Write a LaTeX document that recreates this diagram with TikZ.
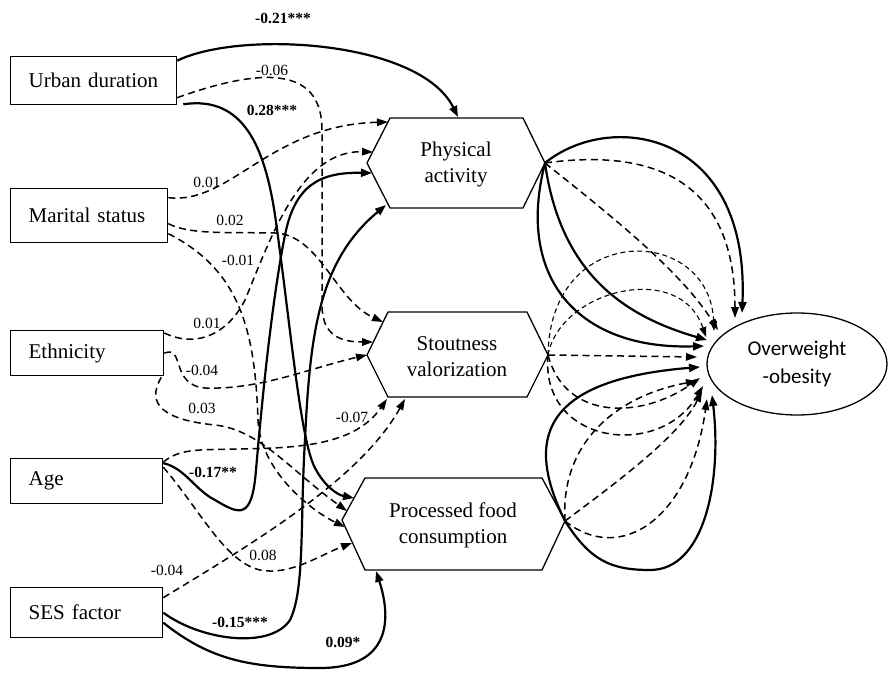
\documentclass[tikz,border=0pt]{standalone}
\usepackage{fontspec}
\setmainfont{Liberation Serif}
\newfontfamily\calib{Carlito}
\usetikzlibrary{arrows.meta,calc,shapes.geometric}
\begin{document}
\begin{tikzpicture}[x=1pt,y=-1pt,
  box/.style={draw, line width=1.3pt, inner xsep=18pt, inner ysep=0pt, align=left,
    font=\fontsize{21}{24}\selectfont, anchor=north west},
  hex/.style={draw, line width=1.3pt, line join=miter},
  htext/.style={align=center, font=\fontsize{21}{26}\selectfont},
  sol/.style={line width=2.2pt, -{Triangle[length=11pt,width=8pt]}},
  dsh/.style={line width=1.5pt, dash pattern=on 7pt off 4.5pt, -{Triangle[length=11pt,width=7.5pt]}},
  thin/.style={line width=1.1pt, dash pattern=on 5pt off 3.5pt, -{Triangle[length=10pt,width=7pt]}},
  lab/.style={font=\fontsize{15.5}{18}\selectfont, inner sep=1pt},
  blab/.style={font=\bfseries\fontsize{15.5}{18}\selectfont, inner sep=1pt}
]
\useasboundingbox (0,0) rectangle (889,674);

% exogenous boxes
\node[box, text width=130pt, minimum height=48pt] (ud) at (10,56) {Urban duration};
\node[box, text width=121pt, minimum height=54pt] (ms) at (10,188) {Marital status};
\node[box, text width=117pt, minimum height=45pt] (et) at (10,330) {Ethnicity};
\node[box, text width=116pt, minimum height=45pt] (ag) at (10,458) {Age};
\node[box, text width=116pt, minimum height=50pt] (ses) at (10,587) {SES factor};

% mediators (hexagons)
\draw[hex] (367,163) -- (390,118) -- (523,118) -- (545,163) -- (523,208) -- (390,208) -- cycle;
\node[htext] (pa) at (456,164) {Physical\\activity};
\draw[hex] (367,355) -- (388,312) -- (527,312) -- (548,355) -- (527,397) -- (388,397) -- cycle;
\node[htext] (sv) at (457,357) {Stoutness\\valorization};
\draw[hex] (342,520) -- (365,478) -- (542,478) -- (565,521) -- (542,570) -- (365,570) -- cycle;
\node[htext] (pf) at (453,525) {Processed food\\consumption};

% outcome
\node[draw, ellipse, line width=1.3pt, minimum width=180pt, minimum height=102pt, inner sep=0pt,
  font=\calib\fontsize{21}{28}\selectfont, align=center] (ow) at (797,364) {Overweight\\-obesity};

% attachment points
\coordinate (paT) at (458,117);
\coordinate (paL1) at (388,122);
\coordinate (paL2) at (373,152);
\coordinate (paL3) at (372,173);
\coordinate (paL4) at (386,205);
\coordinate (paR) at (545,163);
\coordinate (svL1) at (383,322);
\coordinate (svL2) at (373,342);
\coordinate (svL3) at (367,355);
\coordinate (svB1) at (387,399);
\coordinate (svB2) at (405,399);
\coordinate (svR) at (548,355);
\coordinate (pfL1) at (354,498);
\coordinate (pfL2) at (347,511);
\coordinate (pfL3) at (345,527);
\coordinate (pfL4) at (352,543);
\coordinate (pfB) at (376,571);
\coordinate (pfR) at (565,521);
\coordinate (e1) at (742,313);
\coordinate (e2) at (735,318);
\coordinate (e3) at (718,330);
\coordinate (e4) at (707,340);
\coordinate (e5) at (704,346);
\coordinate (e6) at (697,357);
\coordinate (e7) at (714,331);
\coordinate (e8) at (706,337);
\coordinate (e9) at (700,378);
\coordinate (e10) at (703,386);
\coordinate (e11) at (700,367);
\coordinate (e12) at (712,395);
\coordinate (e13) at (697,381);
\coordinate (e14) at (702,391);
\coordinate (e15) at (707,399);

% Urban duration
\draw[sol] ($(ud.east)+(0,-20)$) .. controls (240,30) and (420,40) .. (paT);
\draw[dsh] ($(ud.east)+(0,17)$) .. controls (260,68) and (322,65) .. (322,130) -- (322,305) .. controls (322,335) and (340,342) .. (svL2);
\draw[sol] ($(ud.south east)+(6,-1)$) .. controls (245,95) and (265,150) .. (275,215) .. controls (290,320) and (300,440) .. (315,468) .. controls (325,487) and (338,495) .. (pfL1);
% Marital status
\draw[dsh] ($(ms.east)+(0,-18)$) .. controls (230,205) and (270,125) .. (paL1);
\draw[dsh] ($(ms.east)+(0,8)$) .. controls (190,235) and (230,232) .. (275,233) .. controls (320,235) and (335,300) .. (svL1);
\draw[dsh] ($(ms.east)+(0,18)$) .. controls (240,270) and (255,330) .. (258,420) .. controls (260,470) and (310,510) .. (pfL3);
% Ethnicity
\draw[dsh] ($(et.north east)+(0,3)$) .. controls (200,350) and (230,330) .. (245,300) .. controls (270,240) and (300,150) .. (paL2);
\draw[dsh] (et.east) .. controls (185,345) and (170,385) .. (205,388) .. controls (260,390) and (310,368) .. (svL3);
\draw[dsh] ($(et.south east)+(-3,1)$) .. controls (145,405) and (165,420) .. (215,425) .. controls (260,430) and (290,470) .. (pfL2);
% Age
\draw[sol] ($(ag.east)+(0,-18)$) .. controls (185,468) and (195,490) .. (215,500) .. controls (240,515) and (252,520) .. (256,470) .. controls (262,400) and (272,300) .. (285,235) .. controls (295,185) and (320,172) .. (paL3);
\draw[dsh] ($(ag.east)+(0,-19)$) .. controls (180,448) and (200,450) .. (240,449) .. controls (300,448) and (355,445) .. (svB1);
\draw[dsh] ($(ag.east)+(0,-14)$) .. controls (200,510) and (225,562) .. (260,570) .. controls (290,576) and (320,555) .. (pfL4);
% SES factor
\draw[dsh] ($(ses.east)+(0,-15)$) .. controls (250,545) and (360,480) .. (svB2);
\draw[sol] (ses.east) .. controls (200,640) and (270,650) .. (290,620) .. controls (305,590) and (300,520) .. (305,440) .. controls (310,330) and (320,260) .. (paL4);
\draw[sol] ($(ses.east)+(0,10)$) .. controls (210,660) and (250,668) .. (320,668) .. controls (390,668) and (392,620) .. (pfB);

% mediators to outcome
\draw[sol] (paR) .. controls (610,110) and (750,130) .. (e1);
\draw[dsh] (paR) .. controls (640,150) and (735,170) .. (e2);
\draw[dsh] (paR) .. controls (610,215) and (680,270) .. (e3);
\draw[sol] (paR) .. controls (560,270) and (620,315) .. (e4);
\draw[sol] (paR) .. controls (515,280) and (580,350) .. (e5);

\draw[dsh] (svR) -- (e6);
\draw[thin] (svR) .. controls (550,220) and (710,225) .. (e7);
\draw[thin] (svR) .. controls (560,290) and (680,260) .. (e8);
\draw[dsh] (svR) .. controls (565,420) and (640,420) .. (e9);
\draw[dsh] (svR) .. controls (540,445) and (660,460) .. (e10);

\draw[sol] (pfR) .. controls (525,440) and (540,380) .. (e11);
\draw[sol] (pfR) .. controls (590,560) and (610,570) .. (650,570) .. controls (705,570) and (722,480) .. (e12);
\draw[dsh] (pfR) .. controls (560,440) and (620,395) .. (e13);
\draw[dsh] (pfR) .. controls (620,480) and (680,435) .. (e14);
\draw[dsh] (pfR) .. controls (620,565) and (690,520) .. (e15);

% coefficients
\node[blab] (c1) at (283,18) {-0.21***};
\node[lab] (c2) at (272,70) {-0.06};
\node[blab] (c3) at (272,110) {0.28***};
\node[lab] (c4) at (207,182) {0.01};
\node[lab] (c5) at (230,220) {0.02};
\node[lab] (c6) at (238,260) {-0.01};
\node[lab] (c7) at (207,323) {0.01};
\node[lab] (c8) at (202,370) {-0.04};
\node[lab] (c9) at (202,408) {0.03};
\node[blab] (c10) at (213,472) {-0.17**};
\node[lab] (c11) at (352,417) {-0.07};
\node[lab] (c12) at (263,555) {0.08};
\node[lab] (c13) at (167,570) {-0.04};
\node[blab] (c14) at (240,622) {-0.15***};
\node[blab] (c15) at (343,642) {0.09*};
\end{tikzpicture}
\end{document}
